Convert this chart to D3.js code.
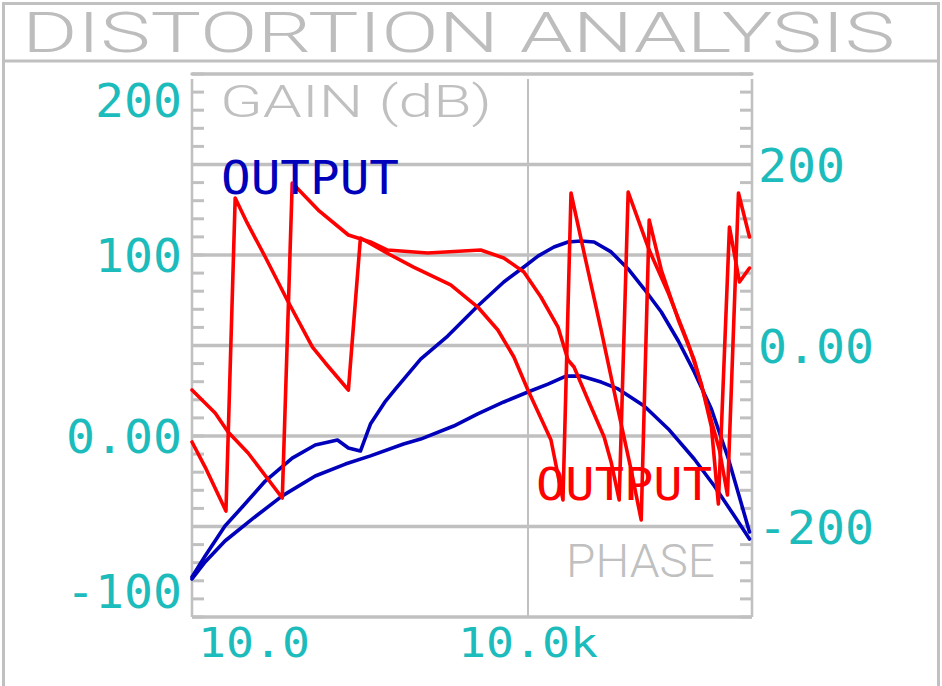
<!DOCTYPE html>
<html>
<head>
<meta charset="utf-8">
<script src="https://cdn.jsdelivr.net/npm/d3@7"></script>
<style>
  html, body { margin: 0; padding: 0; background: #fff; }
  svg { display: block; }
</style>
</head>
<body>
<svg id="chart" width="942" height="686"></svg>
<script>
// gain curves (dB, left axis)
var gainFreqA = [10, 13.1, 19.7, 28.6, 45.1, 78.5, 126, 199, 249, 319, 392, 535, 657, 1100, 1919, 3560, 6080, 9190, 12270, 17060, 22760, 29780, 38900, 55200, 78400, 109000, 155000, 220000, 305000, 434000, 616000, 805000, 950000];
var gainA = [-77.9, -66.3, -49.7, -38.7, -24.9, -12.2, -5.0, -2.2, -6.6, -8.3, 6.6, 19.3, 26.0, 42.5, 55.2, 71.8, 85.1, 93.4, 99.4, 104.4, 107.2, 107.7, 107.2, 101.7, 92.3, 81.2, 68.5, 52.5, 35.4, 14.9, -12.7, -37.6, -53.0];

var gainFreqB = [10, 13.1, 19.7, 34.4, 64.0, 126, 234, 392, 774, 1100, 2170, 3560, 6080, 9980, 15070, 21800, 29780, 45000, 63800, 109000, 179000, 305000, 461000, 697000, 950000];
var gainB = [-79.0, -69.6, -58.0, -45.9, -33.1, -22.1, -15.5, -11.0, -4.4, -1.7, 5.5, 12.2, 18.8, 24.3, 28.7, 33.1, 33.1, 29.8, 26.0, 16.6, 3.9, -12.7, -27.6, -44.2, -56.9];

// phase curves (degrees, right axis, wrapped)
var phaseFreqA = [10, 16.1, 21.0, 31.7, 64.0, 78.5, 134, 249, 392, 557, 1270, 3780, 6080, 9190, 13040, 18530, 22760, 25760, 34360, 47830, 55200, 65160, 78400, 120800, 179000, 270000, 353000, 434000, 501000, 629000, 773000, 950000];
var phaseA = [-49.2, -74.6, -95.6, -118.8, -168.5, 179.6, 149.7, 122.1, 114.4, 105.5, 102.2, 105.5, 96.7, 81.2, 53.6, 20.4, -16.0, -23.8, -60.2, -101.1, -128.7, -170.7, 169.6, 105.5, 58.0, 1.7, -42.5, -89.9, -175.1, 130.9, 70.2, 85.6];

var phaseFreqB = [10, 13.1, 20.1, 24.3, 31.1, 45.1, 70.8, 119, 155, 249, 319, 593, 951, 2040, 3560, 5380, 7480, 9980, 11290, 16040, 20520, 24210, 33000, 45000, 63800, 83400, 102500, 120800, 155000, 220000, 305000, 408000, 512000, 604000, 757000, 950000];
var phaseB = [-106.6, -134.3, -182.9, 163.0, 135.4, 97.8, 50.3, -1.7, -19.3, -49.2, 118.8, 100.0, 86.7, 66.9, 42.5, 17.1, -12.7, -49.2, -63.5, -104.4, -170.7, 168.5, 92.3, 17.1, -71.3, -137.6, -192.8, 138.7, 83.4, 28.2, -16.0, -71.3, -115.5, -165.2, 168.5, 119.9];

var leftTicks = [200, 100, 0, -100];
var leftTickLabels = ["200", "100", "0.00", "-100"];
var rightTicks = [200, 0, -200];
var rightTickLabels = ["200", "0.00", "-200"];
var xTicks = [10, 10000];
var xTickLabels = ["10.0", "10.0k"];
var gridLeft = [150, 100, 50, 0, -50];

var GRAY = "#c0c0c0", CYAN = "#1cbcbc", BLUE = "#0000bb", RED = "#ff0000";
var MONO = "'DejaVu Sans Mono', 'Liberation Mono', monospace";
var THIN = "Roboto, 'Open Sans', sans-serif";

var svg = d3.select("#chart");
// note: "top" is taken by window.top, so plot edges get their own names
var plotL = 192, plotR = 752, plotT = 74, plotB = 617;

var x = d3.scaleLog().domain([10, 1e6]).range([plotL, plotR]);
var yL = d3.scaleLinear().domain([-100, 200]).range([plotB, plotT]);
var yR = d3.scaleLinear().domain([-300, 300]).range([plotB, plotT]);

// frame + title box
svg.append("rect").attr("x", 3.5).attr("y", 3.5).attr("width", 935).attr("height", 700)
  .attr("fill", "none").attr("stroke", GRAY).attr("stroke-width", 3);
svg.append("line").attr("x1", 3).attr("x2", 939).attr("y1", 61).attr("y2", 61)
  .attr("stroke", GRAY).attr("stroke-width", 3);
svg.append("text").text("DISTORTION ANALYSIS")
  .attr("x", 22).attr("y", 52)
  .attr("font-family", THIN).attr("font-weight", 300).attr("font-size", 56)
  .attr("textLength", 873).attr("lengthAdjust", "spacingAndGlyphs")
  .attr("fill", "#bdbdbd");

// grid
var g = svg.append("g");
g.selectAll("line.hgrid").data(gridLeft).enter().append("line")
  .attr("x1", plotL).attr("x2", plotR)
  .attr("y1", function(d) {return yL(d)}).attr("y2", function(d) {return yL(d)})
  .attr("stroke", GRAY).attr("stroke-width", 3.5);
g.append("line").attr("x1", x(10000)).attr("x2", x(10000)).attr("y1", plotT + 5).attr("y2", plotB)
  .attr("stroke", GRAY).attr("stroke-width", 2);

// minor ticks, every 10 dB on both sides
var minor = d3.range(-100, 201, 10);
g.selectAll("line.ltick").data(minor).enter().append("line")
  .attr("x1", plotL).attr("x2", plotL + 12)
  .attr("y1", function(d) {return yL(d)}).attr("y2", function(d) {return yL(d)})
  .attr("stroke", GRAY).attr("stroke-width", 3);
g.selectAll("line.rtick").data(minor).enter().append("line")
  .attr("x1", plotR - 12).attr("x2", plotR)
  .attr("y1", function(d) {return yL(d)}).attr("y2", function(d) {return yL(d)})
  .attr("stroke", GRAY).attr("stroke-width", 3);

// plot frame
g.append("line").attr("x1", plotL).attr("x2", plotR).attr("y1", plotT).attr("y2", plotT)
  .attr("stroke", GRAY).attr("stroke-width", 3.5).attr("stroke-linecap", "round");
g.append("line").attr("x1", plotL).attr("x2", plotR).attr("y1", plotB).attr("y2", plotB)
  .attr("stroke", GRAY).attr("stroke-width", 3.5);
g.append("line").attr("x1", plotL).attr("x2", plotL).attr("y1", plotT + 5).attr("y2", plotB)
  .attr("stroke", GRAY).attr("stroke-width", 2.5);
g.append("line").attr("x1", plotR).attr("x2", plotR).attr("y1", plotT + 5).attr("y2", plotB)
  .attr("stroke", GRAY).attr("stroke-width", 2.5);

// gray panel labels
svg.append("text").text("GAIN (dB)").attr("x", 220).attr("y", 117)
  .attr("font-family", THIN).attr("font-weight", 300).attr("font-size", 45)
  .attr("textLength", 272).attr("lengthAdjust", "spacingAndGlyphs").attr("fill", GRAY);
svg.append("text").text("PHASE").attr("x", 566).attr("y", 577)
  .attr("font-family", THIN).attr("font-weight", 300).attr("font-size", 46)
  .attr("textLength", 149).attr("lengthAdjust", "spacingAndGlyphs").attr("fill", GRAY);

// curves
function drawCurve(freqs, vals, yScale, color) {
  var line = d3.line()
    .x(function(d, i) {return x(freqs[i])})
    .y(function(d) {return yScale(d)});
  svg.append("path").datum(vals).attr("d", line)
    .attr("fill", "none").attr("stroke", color).attr("stroke-width", 3.6)
    .attr("stroke-linejoin", "round").attr("stroke-linecap", "round");
}
drawCurve(gainFreqA, gainA, yL, BLUE);
drawCurve(gainFreqB, gainB, yL, BLUE);
drawCurve(phaseFreqA, phaseA, yR, RED);
drawCurve(phaseFreqB, phaseB, yR, RED);

// trace labels
svg.append("text").text("OUTPUT").attr("x", 221).attr("y", 194)
  .attr("font-family", MONO).attr("font-size", 46)
  .attr("textLength", 178).attr("lengthAdjust", "spacingAndGlyphs").attr("fill", BLUE);
svg.append("text").text("OUTPUT").attr("x", 536).attr("y", 500)
  .attr("font-family", MONO).attr("font-size", 45)
  .attr("textLength", 176).attr("lengthAdjust", "spacingAndGlyphs").attr("fill", RED);

// axis labels (clamped inside the plot height)
function clampBase(y) {return Math.max(plotT + 43, Math.min(plotB - 9, y + 17))}
svg.selectAll("text.ylab").data(leftTicks).enter().append("text")
  .text(function(d, i) {return leftTickLabels[i]})
  .attr("x", 182).attr("y", function(d) {return clampBase(yL(d))})
  .attr("text-anchor", "end")
  .attr("font-family", MONO).attr("font-size", 46)
  .attr("textLength", function(d, i) {return leftTickLabels[i].length * 29})
  .attr("lengthAdjust", "spacingAndGlyphs").attr("fill", CYAN);
svg.selectAll("text.yrlab").data(rightTicks).enter().append("text")
  .text(function(d, i) {return rightTickLabels[i]})
  .attr("x", 758).attr("y", function(d) {return clampBase(yR(d))})
  .attr("font-family", MONO).attr("font-size", 46)
  .attr("textLength", function(d, i) {return rightTickLabels[i].length * 29})
  .attr("lengthAdjust", "spacingAndGlyphs").attr("fill", CYAN);
svg.selectAll("text.xlab").data(xTicks).enter().append("text")
  .text(function(d, i) {return xTickLabels[i]})
  .attr("x", function(d, i) {return Math.max(x(d), plotL + 6 + xTickLabels[i].length * 14)})
  .attr("y", 657).attr("text-anchor", "middle")
  .attr("font-family", MONO).attr("font-size", 41)
  .attr("textLength", function(d, i) {return xTickLabels[i].length * 28})
  .attr("lengthAdjust", "spacingAndGlyphs").attr("fill", CYAN);
</script>
</body>
</html>
